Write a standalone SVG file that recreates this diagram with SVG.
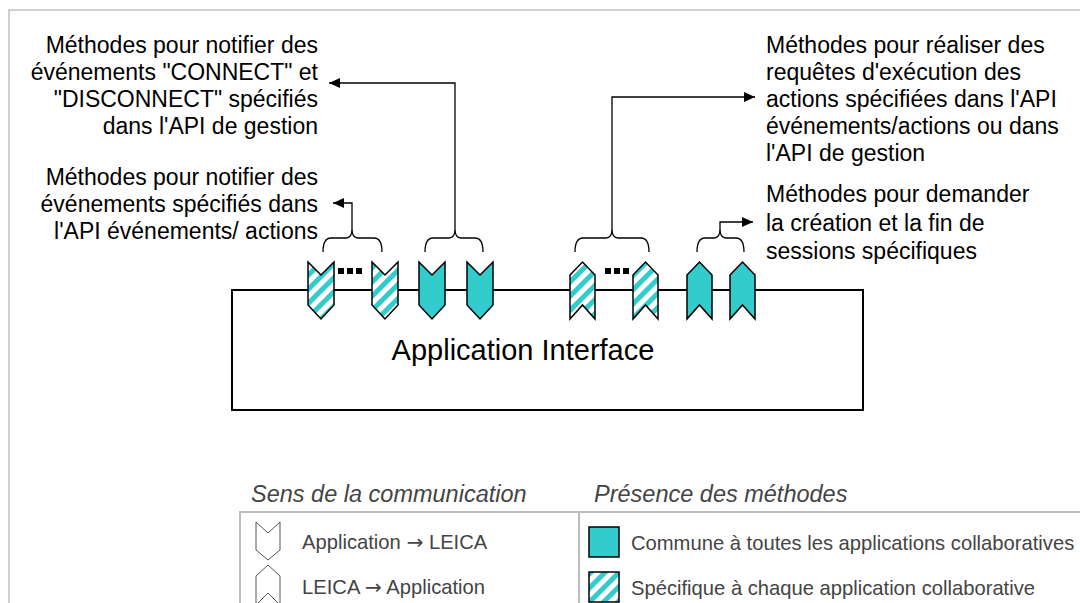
<svg xmlns="http://www.w3.org/2000/svg" width="1080" height="603" viewBox="0 0 1080 603">
<defs>
<pattern id="stripes" patternUnits="userSpaceOnUse" width="10" height="10" patternTransform="rotate(45)">
<rect width="10" height="10" fill="#ffffff"/>
<rect width="5" height="10" fill="#33cccc"/>
</pattern>
<marker id="arr" markerUnits="userSpaceOnUse" markerWidth="12" markerHeight="10" refX="11" refY="5" orient="auto">
<path d="M0,0 L11,5 L0,10 Z" fill="#000"/>
</marker>
<style>
.t{font-family:"Liberation Sans",Arial,sans-serif;font-size:23px;fill:#000}
.r{text-anchor:end}
.lt{font-family:"Liberation Sans",Arial,sans-serif;font-size:23.5px;font-style:italic;fill:#444}
.li{font-family:"Liberation Sans",Arial,sans-serif;font-size:20.2px;fill:#444}
.ar{font-family:"DejaVu Sans",sans-serif}
.dn{stroke:#000;stroke-width:1.5;stroke-linejoin:miter}
.solid{fill:#33cccc}
.str{fill:url(#stripes)}
.br{fill:none;stroke:#000;stroke-width:1.3}
.cn{fill:none;stroke:#000;stroke-width:1.3}
.lg{fill:none;stroke:#bbbbbb;stroke-width:2}
.lgs{fill:#fff;stroke:#555;stroke-width:1}
</style>
</defs>
<rect x="9" y="10" width="1100" height="620" fill="#fff" stroke="#c0c0c0" stroke-width="1.5"/>

<g id="app-interface">
<rect x="232" y="290" width="631" height="120" fill="#fff" stroke="#000" stroke-width="2"/>
<text x="523" y="360" class="t" style="font-size:29px" text-anchor="middle">Application Interface</text>
</g>

<g id="methods-events">
<path class="dn str" d="M308,262 L321,275 L334,262 L334,305 L321,319 L308,305 Z"/>
<rect x="338" y="268" width="6" height="6"/><rect x="347" y="268" width="6" height="6"/><rect x="356" y="268" width="6" height="6"/>
<path class="dn str" d="M372,262 L385,275 L398,262 L398,305 L385,319 L372,305 Z"/>
</g>
<g id="methods-connect">
<path class="dn solid" d="M419,262 L432,275 L445,262 L445,305 L432,319 L419,305 Z"/>
<path class="dn solid" d="M467,262 L480,275 L493,262 L493,305 L480,319 L467,305 Z"/>
</g>
<g id="methods-actions">
<path class="dn str" d="M570,275 L582.5,262 L595,275 L595,319 L582.5,305 L570,319 Z"/>
<rect x="605" y="268" width="6" height="6"/><rect x="614" y="268" width="6" height="6"/><rect x="623" y="268" width="6" height="6"/>
<path class="dn str" d="M633,275 L645.5,262 L658,275 L658,319 L645.5,305 L633,319 Z"/>
</g>
<g id="methods-sessions">
<path class="dn solid" d="M687,275 L699.5,262 L712,275 L712,319 L699.5,305 L687,319 Z"/>
<path class="dn solid" d="M730,275 L742.5,262 L755,275 L755,319 L742.5,305 L730,319 Z"/>
</g>

<g id="braces">
<path class="br" d="M323,252 Q323,238 331,238 L346,238 Q352,238 352,229 Q352,238 358,238 L374,238 Q382,238 382,252"/>
<path class="br" d="M425,252 Q425,238 433,238 L449,238 Q455,238 455,229 Q455,238 461,238 L475,238 Q483,238 483,252"/>
<path class="br" d="M575,252 Q575,238 583,238 L606,238 Q612,238 612,229 Q612,238 618,238 L641,238 Q649,238 649,252"/>
<path class="br" d="M697,252 Q697,238 705,238 L714,238 Q720,238 720,229 Q720,238 726,238 L736,238 Q744,238 744,252"/>
</g>

<g id="connectors">
<path class="cn" marker-end="url(#arr)" d="M352,229 L352,203 L333,203"/>
<path class="cn" marker-end="url(#arr)" d="M455,229 L455,83 L329,83"/>
<path class="cn" marker-end="url(#arr)" d="M612,229 L612,97 L755,97"/>
<path class="cn" marker-end="url(#arr)" d="M720,229 L720,222 L753,222"/>
</g>

<g id="label-connect">
<text class="t r" x="318" y="53">Méthodes pour notifier des</text>
<text class="t r" x="318" y="80">événements "CONNECT" et</text>
<text class="t r" x="318" y="107">"DISCONNECT" spécifiés</text>
<text class="t r" x="318" y="134">dans l'API de gestion</text>
</g>
<g id="label-events">
<text class="t r" x="318" y="185">Méthodes pour notifier des</text>
<text class="t r" x="318" y="212">événements spécifiés dans</text>
<text class="t r" x="318" y="239">l'API événements/ actions</text>
</g>
<g id="label-actions">
<text class="t" x="766" y="53">Méthodes pour réaliser des</text>
<text class="t" x="766" y="80">requêtes d'exécution des</text>
<text class="t" x="766" y="107">actions spécifiées dans l'API</text>
<text class="t" x="766" y="134">événements/actions ou dans</text>
<text class="t" x="766" y="161">l'API de gestion</text>
</g>
<g id="label-sessions">
<text class="t" x="766" y="202">Méthodes pour demander</text>
<text class="t" x="766" y="231">la création et la fin de</text>
<text class="t" x="766" y="259">sessions spécifiques</text>
</g>

<g id="legend">
<text class="lt" x="251" y="502">Sens de la communication</text>
<text class="lt" x="594" y="502">Présence des méthodes</text>
<path class="lg" d="M240,604 L240,512 L1081,512 M579,512 L579,604"/>
<path class="lgs" d="M256,522 L268,533 L280,522 L280,550 L268,560 L256,550 Z"/>
<text class="li" x="302" y="549">Application <tspan class="ar">→</tspan> LEICA</text>
<path class="lgs" d="M256,576 L268,565 L280,576 L280,605 L268,593 L256,605 Z"/>
<text class="li" x="302" y="594">LEICA <tspan class="ar">→</tspan> Application</text>
<rect x="589" y="527" width="30" height="30" fill="#33cccc" stroke="#000" stroke-width="1.5"/>
<text class="li" x="631" y="550">Commune à toutes les applications collaboratives</text>
<rect x="589" y="572" width="30" height="30" fill="url(#stripes)" stroke="#000" stroke-width="1.5"/>
<text class="li" x="631" y="595">Spécifique à chaque application collaborative</text>
</g>
</svg>
